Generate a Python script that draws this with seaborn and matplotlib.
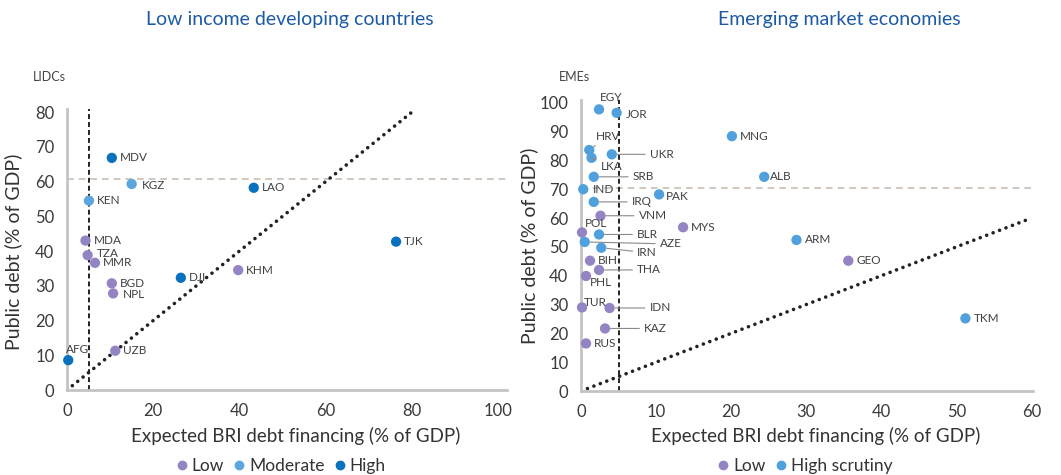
import numpy as np
import pandas as pd
import matplotlib
matplotlib.use("Agg")
import matplotlib.pyplot as plt
import seaborn as sns

sns.set_style("white")
plt.rcParams["font.family"] = ["Lato", "DejaVu Sans"]

# LIDCs
lidc_names = ["MDV", "KGZ", "KEN", "LAO", "TJK", "MDA", "TZA", "MMR", "BGD", "NPL", "DJI", "KHM", "UZB", "AFG"]
lidc_bri = [10.4, 15.0, 5.1, 43.3, 76.3, 4.3, 4.8, 6.5, 10.4, 10.7, 26.4, 39.7, 11.2, 0.3]
lidc_debt = [66.8, 59.3, 54.5, 58.2, 42.7, 43.0, 38.8, 36.6, 30.7, 27.8, 32.3, 34.5, 11.3, 8.6]
lidc_risk = ["High", "Moderate", "Moderate", "High", "High", "Low", "Low", "Low", "Low", "Low", "High", "Low", "Low", "High"]

# EMEs
eme_names = ["EGY", "JOR", "MNG", "HRV", "UKR", "LKA", "SRB", "ALB", "IND", "PAK", "IRQ", "VNM", "MYS", "POL",
             "BLR", "ARM", "AZE", "IRN", "BIH", "GEO", "THA", "PHL", "TUR", "IDN", "TKM", "KAZ", "RUS"]
eme_bri = [2.4, 4.75, 20.1, 1.1, 4.1, 1.4, 1.7, 24.4, 0.3, 10.4, 1.7, 2.6, 13.6, 0.13,
           2.4, 28.7, 0.5, 2.7, 1.2, 35.6, 2.4, 0.67, 0.13, 3.8, 51.2, 3.2, 0.67]
eme_debt = [97.7, 96.5, 88.4, 83.6, 82.1, 80.9, 74.3, 74.3, 70.0, 68.2, 65.6, 60.8, 56.8, 55.0,
            54.3, 52.4, 51.7, 49.7, 45.2, 45.2, 42.0, 39.9, 29.0, 28.8, 25.2, 21.7, 16.5]
eme_risk = ["High scrutiny"] * 11 + ["Low", "Low", "Low", "High scrutiny", "High scrutiny", "High scrutiny",
            "High scrutiny", "Low", "Low", "Low", "Low", "Low", "Low", "High scrutiny", "Low", "Low"]

# reference lines
bri_threshold = 5
lidc_debt_threshold = 60.6
eme_debt_threshold = 70.5

# label offsets in pixels (dx, dy, leader line)
lidc_offsets = {"AFG": (-2, 11, False), "TZA": (9, 2, False), "KGZ": (10, -2, False), "NPL": (10, -1, False)}
eme_offsets = {
    "EGY": (1, 12, False), "JOR": (9, -2, False), "HRV": (7, 14, True), "UKR": (38, 0, True),
    "LKA": (9, -9, True), "SRB": (39, 0, True), "ALB": (6, 0, False), "IND": (10, 0, False),
    "PAK": (7, -2, False), "IRQ": (38, 0, True), "VNM": (38, 0, True), "POL": (3, 9, False),
    "BLR": (38, 0, True), "AZE": (75, -2, True), "IRN": (36, -5, True), "THA": (38, 0, True),
    "PHL": (4, -7, False), "TUR": (2, 5, False), "IDN": (40, 0, True), "KAZ": (39, 0, True),
}

pal_lidc = {"Low": "#9484c4", "Moderate": "#5ba6df", "High": "#0a72bd"}
pal_eme = {"Low": "#9484c4", "High scrutiny": "#4fa0dc"}

lidc = pd.DataFrame({"name": lidc_names, "bri": lidc_bri, "debt": lidc_debt, "risk": lidc_risk})
eme = pd.DataFrame({"name": eme_names, "bri": eme_bri, "debt": eme_debt, "risk": eme_risk})

fig = plt.figure(figsize=(10.61, 4.75), dpi=100)
ax1 = fig.add_axes([0.0631, 0.1789, 0.4147, 0.5926])
ax2 = fig.add_axes([0.5476, 0.1768, 0.4260, 0.6130])

tick_col = "#3a3a3a"
spine_col = "#c4c4c4"


def draw(ax, df, pal, order, offsets, xmax, ymax, diag, hthr, xticks, yticks):
    ax.axhline(hthr, color="#c8bdb4", lw=1.2, dashes=(4, 3), zorder=1)
    ax.axvline(bri_threshold, color="#222222", lw=1.4, dashes=(2.5, 1.6), zorder=1)
    ax.plot([0, diag], [0, diag], color="#222222", lw=2.6, ls=(0, (0.01, 1.9)),
            dash_capstyle="round", zorder=1)
    sns.scatterplot(data=df, x="bri", y="debt", hue="risk", hue_order=order, palette=pal,
                    s=55, edgecolor="none", ax=ax, clip_on=False, zorder=3)
    for _, r in df.iterrows():
        dx, dy, lead = offsets.get(r["name"], (8, 0, False))
        kw = {}
        if lead:
            kw["arrowprops"] = dict(arrowstyle="-", color="#8a8a8a", lw=0.8, shrinkA=1, shrinkB=4)
        ax.annotate(r["name"], (r["bri"], r["debt"]), xytext=(dx, dy), textcoords="offset pixels",
                    ha="left", va="center", fontsize=8.5, color="#404040", **kw)
    ax.set_xlim(0, xmax)
    ax.set_ylim(0, ymax)
    ax.set_xticks(xticks)
    ax.set_yticks(yticks)
    ax.tick_params(length=0, labelsize=12, colors=tick_col, pad=9)
    for s in ["top", "right"]:
        ax.spines[s].set_visible(False)
    for s in ["left", "bottom"]:
        ax.spines[s].set_color(spine_col)
        ax.spines[s].set_linewidth(2)
    ax.set_xlabel("Expected BRI debt financing (% of GDP)", fontsize=13.5, color="#333333")
    ax.set_ylabel("Public debt (% of GDP)", fontsize=14, color="#333333")
    ax.get_legend().remove()


draw(ax1, lidc, pal_lidc, ["Low", "Moderate", "High"], lidc_offsets, 102, 81, 80,
     lidc_debt_threshold, range(0, 101, 20), range(0, 81, 10))
draw(ax2, eme, pal_eme, ["Low", "High scrutiny"], eme_offsets, 60.2, 101, 60,
     eme_debt_threshold, range(0, 61, 10), range(0, 101, 10))

ax1.xaxis.set_label_coords(0.52, -0.13)
ax2.xaxis.set_label_coords(0.52, -0.125)
ax1.yaxis.set_label_coords(-0.102, 0.49)
ax2.yaxis.set_label_coords(-0.095, 0.5)

# legends below each panel
for ax, pal, order, xc in [(ax1, pal_lidc, ["Low", "Moderate", "High"], 279),
                           (ax2, pal_eme, ["Low", "High scrutiny"], 803)]:
    handles = [plt.Line2D([], [], marker="o", ls="", color=pal[k], markersize=6) for k in order]
    fig.legend(handles, order, loc="center", bbox_to_anchor=(xc / 1061, 9 / 475), ncol=len(order),
               frameon=False, fontsize=12.5, handletextpad=0.0, columnspacing=0.35,
               handlelength=1.1, labelcolor="#333333")

fig.text(290 / 1061, 1 - 20 / 475, "Low income developing countries", ha="center", va="center",
         fontsize=14, color="#1c5aa6")
fig.text(839 / 1061, 1 - 20 / 475, "Emerging market economies", ha="center", va="center",
         fontsize=14, color="#1c5aa6")
fig.text(33 / 1061, 1 - 77 / 475, "LIDCs", ha="left", va="center", fontsize=9, color="#444444")
fig.text(559 / 1061, 1 - 77 / 475, "EMEs", ha="left", va="center", fontsize=9, color="#444444")

fig.savefig("out.png", dpi=100)
